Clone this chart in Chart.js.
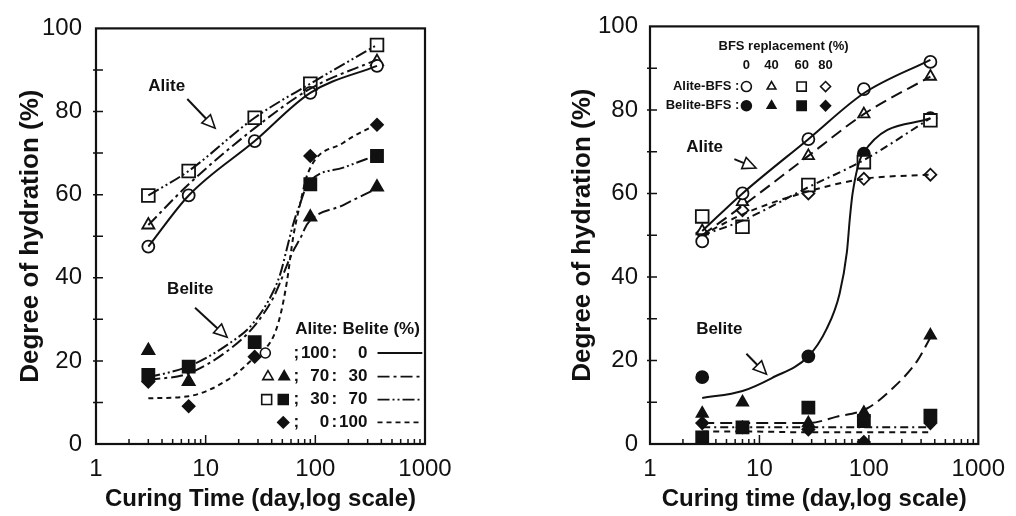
<!DOCTYPE html>
<html>
<head>
<meta charset="utf-8">
<script src="https://cdn.jsdelivr.net/npm/chart.js@4.4.1/dist/chart.umd.min.js"></script>
<style>
  html, body { margin: 0; padding: 0; background: #fff; }
  #wrap { position: relative; width: 1016px; height: 516px; }
  .panel { position: absolute; top: 0; height: 516px; }
  #left { left: 0; width: 500px; }
  #right { left: 500px; width: 516px; }
</style>
</head>
<body>
<div id="wrap">
  <div class="panel" id="left"><canvas id="leftChart" width="500" height="516"></canvas></div>
  <div class="panel" id="right"><canvas id="rightChart" width="516" height="516"></canvas></div>
</div>
<script>
// ---- shared axes ----
const curingDays = [3, 7, 28, 90, 365];
const xTickValues = [1, 10, 100, 1000];
const yTickValues = [0, 20, 40, 60, 80, 100];

// ---- left panel: measured points (Alite:Belite ratio) ----
const alite100 = [47.5, 59.8, 72.9, 84.5, 91];
const alite70 = [52.7, null, null, null, 92];
const alite30 = [59.8, 65.7, 78.5, 86.7, 96];
const belite70 = [22.5, 15, null, 54.6, 61.8];
const belite30 = [16.6, 18.6, 24.5, 62.5, 69.3];
const belite0 = [15, 9.1, 21, 69.3, 76.8];

// ---- left panel: fitted curves ----
const alite100Fit = [47.5, 59.8, 72.9, 84.5, 91];
const alite70Fit = [52.7, 62.5, 76, 85.5, 92.5];
const alite30Fit = [59.8, 65.7, 78.5, 86.7, 96];
const beliteFitDays = [3, 7, 16, 27, 41, 48, 55, 63, 73, 85, 180, 365];
const belite70Fit = [15.4, 17, 22.5, 28, 35, 39, 43, 46.5, 49.5, 53, 57.5, 61.5];
const belite30Fit = [16, 18.7, 24, 29, 36.5, 41, 47, 53, 58, 62.5, 66.5, 69.5];
const belite0Fit = [11, 11.5, 15.5, 20.5, 25.6, 31, 39, 50, 58, 65, 72.5, 77];

// ---- right panel: measured points (BFS replacement %) ----
const rAlite0 = [48.5, 60, 73, 85, 91.5];
const rAlite40 = [51, 58, 69, 79, 88];
const rAlite60 = [54.5, 52, 62, 67.5, 77.5];
const rAlite80 = [50.5, 56, 60, 63.5, 64.5];
const rBelite0 = [16, null, 21, 69.5, 78];
const rBelite40 = [7.3, 10, 5, 7.5, 26];
const rBelite60 = [1.6, 4, 8.7, 5.5, 6.8];
const rBelite80 = [5, 4, 3.5, 0.5, 5];

// ---- right panel: fitted curves ----
const rAlite0Fit = [51, 60, 73, 84, 92];
const rAlite40Fit = [50, 57, 69, 79, 88];
const rAlite60Fit = [50, 53.5, 61.5, 68, 78];
const rAlite80Fit = [50, 55, 60.5, 63.5, 64.5];
const rBelite0Days = [3, 7, 13, 28, 41, 54, 63, 67, 71, 88, 365];
const rBelite0Fit = [11, 12.7, 15.8, 21, 27.5, 36, 46, 54, 60, 69.5, 78];
const rBelite40Days = [3, 7, 28, 50, 96, 166, 275, 365];
const rBelite40Fit = [5, 5, 5, 6.5, 8.5, 13.4, 19.8, 25.5];
const rBelite60Fit = [4, 4, 4, 4, 4];
const rBelite80Fit = [3, 3, 2.8, 2.8, 2.8];

const INK = '#111';
const FAMILY = '"Liberation Sans", Arial, sans-serif';
const NARROW = '"Liberation Sans Narrow", "Liberation Sans", Arial, sans-serif';

function pts(days, vals) {
  return days.map((d, i) => (vals[i] == null ? null : { x: d, y: vals[i] })).filter(Boolean);
}

function fitLine(days, vals, dash) {
  return {
    data: pts(days, vals), showLine: true, pointRadius: 0,
    borderColor: INK, borderWidth: 2, borderDash: dash,
    cubicInterpolationMode: 'monotone', fill: false
  };
}

function markers(vals, style, filled, radius) {
  return {
    data: pts(curingDays, vals), showLine: false,
    pointStyle: style, pointRadius: radius, pointBorderWidth: 1.8,
    pointBorderColor: INK, pointBackgroundColor: filled ? INK : '#fff'
  };
}

// ---- drawing helpers for frame, ticks and annotations ----
function P(chart, d, v) {
  return [chart.scales.x.getPixelForValue(d), chart.scales.y.getPixelForValue(v)];
}

function drawFrame(chart) {
  const { ctx, chartArea: a } = chart;
  const x = chart.scales.x, y = chart.scales.y;
  ctx.save();
  ctx.strokeStyle = INK;
  ctx.lineWidth = 2.2;
  ctx.strokeRect(a.left, a.top, a.right - a.left, a.bottom - a.top);
  ctx.lineWidth = 1.5;
  ctx.beginPath();
  for (let v = 10; v < 100; v += 10) {
    const py = y.getPixelForValue(v);
    ctx.moveTo(a.left - 3, py);
    ctx.lineTo(a.left + 7, py);
  }
  for (let d = 1; d < 1000; d *= 10) {
    for (let m = 2; m <= 10; m++) {
      const v = d * m;
      if (v >= 1000) break;
      const px = x.getPixelForValue(v);
      ctx.moveTo(px, a.bottom);
      ctx.lineTo(px, a.bottom - (m === 10 ? 9 : 5));
    }
  }
  ctx.stroke();
  ctx.restore();
}

function drawText(chart, text, d, v, font, align) {
  const { ctx } = chart;
  const [px, py] = P(chart, d, v);
  ctx.save();
  ctx.fillStyle = INK;
  ctx.font = font;
  ctx.textAlign = align || 'left';
  ctx.textBaseline = 'middle';
  ctx.fillText(text, px, py);
  ctx.restore();
}

function drawArrow(chart, from, to) {
  const { ctx } = chart;
  const [x0, y0] = P(chart, from[0], from[1]);
  const [x1, y1] = P(chart, to[0], to[1]);
  const ang = Math.atan2(y1 - y0, x1 - x0);
  const len = 13, half = 6;
  const bx = x1 - len * Math.cos(ang), by = y1 - len * Math.sin(ang);
  ctx.save();
  ctx.strokeStyle = INK;
  ctx.lineWidth = 2;
  ctx.beginPath();
  ctx.moveTo(x0, y0);
  ctx.lineTo(bx, by);
  ctx.stroke();
  ctx.beginPath();
  ctx.moveTo(x1, y1);
  ctx.lineTo(bx + half * Math.sin(ang), by - half * Math.cos(ang));
  ctx.lineTo(bx - half * Math.sin(ang), by + half * Math.cos(ang));
  ctx.closePath();
  ctx.fillStyle = '#fff';
  ctx.fill();
  ctx.lineWidth = 1.6;
  ctx.stroke();
  ctx.restore();
}

function drawSymbol(chart, style, filled, d, v, radius) {
  const { ctx } = chart;
  const [px, py] = P(chart, d, v);
  ctx.save();
  ctx.strokeStyle = INK;
  ctx.fillStyle = filled ? INK : '#fff';
  ctx.lineWidth = 1.6;
  Chart.helpers.drawPoint(ctx, { pointStyle: style, radius: radius, borderWidth: 1.6 }, px, py);
  ctx.restore();
}

function drawSample(chart, d0, d1, v, dash) {
  const { ctx } = chart;
  const [x0, py] = P(chart, d0, v);
  const [x1] = P(chart, d1, v);
  ctx.save();
  ctx.strokeStyle = INK;
  ctx.lineWidth = 1.8;
  ctx.setLineDash(dash);
  ctx.beginPath();
  ctx.moveTo(x0, py);
  ctx.lineTo(x1, py);
  ctx.stroke();
  ctx.restore();
}

const DASH_A = [];
const DASH_B = [12, 4, 3, 4];
const DASH_C = [12, 3, 2, 3, 2, 3];
const DASH_D = [5, 4];

const legendRows = [
  { ratio: ['100', '0'], dash: DASH_A },
  { ratio: ['70', '30'], dash: DASH_B },
  { ratio: ['30', '70'], dash: DASH_C },
  { ratio: ['0', '100'], dash: DASH_D }
];
const legendRowLevels = [21.9, 16.2, 10.7, 5.2];

const leftDecor = {
  id: 'leftDecor',
  afterDatasetsDraw(chart) {
    drawFrame(chart);
    const big = 'bold 17px ' + NARROW;
    drawText(chart, 'Alite', 3, 86, big);
    drawArrow(chart, [6.8, 83], [12.2, 76]);
    drawText(chart, 'Belite', 4.45, 37.3, big);
    drawArrow(chart, [8.0, 32.8], [15.7, 25.7]);

    const lf = 'bold 17px ' + NARROW;
    drawText(chart, 'Alite: Belite (%)', 65.5, 27.5, lf);
    legendRows.forEach((row, i) => {
      const lv = legendRowLevels[i];
      drawText(chart, ';', 67, lv, lf, 'center');
      drawText(chart, row.ratio[0], 134, lv, lf, 'right');
      drawText(chart, ':', 149, lv, lf, 'center');
      drawText(chart, row.ratio[1], 298, lv, lf, 'right');
      drawSample(chart, 369, 945, lv, row.dash);
    });
    drawSymbol(chart, 'circle', false, 35, legendRowLevels[0], 5);
    drawSymbol(chart, 'triangle', false, 37, legendRowLevels[1], 6);
    drawSymbol(chart, 'triangle', true, 52, legendRowLevels[1], 6);
    drawSymbol(chart, 'rect', false, 36, legendRowLevels[2], 7);
    drawSymbol(chart, 'rect', true, 51, legendRowLevels[2], 7);
    drawSymbol(chart, 'rectRot', true, 51, legendRowLevels[3], 5.5);
  }
};

const bfsColumns = ['0', '40', '60', '80'];
const bfsColumnDays = [7.6, 12.9, 24.3, 40.2];
const bfsStyles = ['circle', 'triangle', 'rect', 'rectRot'];

const rightDecor = {
  id: 'rightDecor',
  afterDatasetsDraw(chart) {
    drawFrame(chart);
    const big = 'bold 17px ' + NARROW;
    drawText(chart, 'Alite', 2.14, 71, big);
    drawArrow(chart, [5.9, 68.2], [9.3, 66.1]);
    drawText(chart, 'Belite', 2.64, 27.5, big);
    drawArrow(chart, [7.6, 21.6], [11.6, 16.7]);

    const sf = 'bold 13px ' + NARROW;
    drawText(chart, 'BFS replacement (%)', 16.6, 95.3, sf, 'center');
    bfsColumns.forEach((c, i) => drawText(chart, c, bfsColumnDays[i], 90.6, sf, 'center'));
    drawText(chart, 'Alite-BFS :', 6.55, 85.6, sf, 'right');
    drawText(chart, 'Belite-BFS :', 6.55, 81, sf, 'right');
    bfsStyles.forEach((s, i) => {
      const r = s === 'rect' ? 6.5 : 5;
      drawSymbol(chart, s, false, bfsColumnDays[i], 85.6, r);
      drawSymbol(chart, s, true, bfsColumnDays[i], 81, r);
    });
  }
};

function panelOptions(pad, yWidth, yTitlePad, yTickPad) {
  const tickFont = { family: FAMILY, size: 24 };
  const xTitleFont = { family: FAMILY, size: 24, weight: 'bold' };
  const yTitleFont = { family: FAMILY, size: 26, weight: 'bold' };
  return {
    responsive: false,
    animation: false,
    layout: { padding: pad },
    plugins: { legend: { display: false }, tooltip: { enabled: false } },
    scales: {
      x: {
        type: 'logarithmic', min: 1, max: 1000,
        afterBuildTicks: s => { s.ticks = xTickValues.map(v => ({ value: v })); },
        afterFit: s => { s.height = 516 - 444; },
        grid: { display: false, drawTicks: false }, border: { display: false },
        ticks: { color: INK, font: tickFont, padding: 11, maxRotation: 0, autoSkip: false, callback: v => String(v) },
        title: { display: true, text: pad.xTitle, color: INK, font: xTitleFont, padding: { top: 0, bottom: 2 } }
      },
      y: {
        min: 0, max: 100,
        afterBuildTicks: s => { s.ticks = yTickValues.map(v => ({ value: v })); },
        afterFit: s => { s.width = yWidth; },
        grid: { display: false, drawTicks: false }, border: { display: false },
        ticks: { color: INK, font: tickFont, padding: yTickPad },
        title: { display: true, text: 'Degree of hydration (%)', color: INK, font: yTitleFont, padding: { top: yTitlePad, bottom: 0 } }
      }
    }
  };
}

new Chart(document.getElementById('leftChart'), {
  type: 'scatter',
  data: {
    datasets: [
      fitLine(curingDays, alite100Fit, DASH_A),
      fitLine(curingDays, alite70Fit, DASH_B),
      fitLine(curingDays, alite30Fit, DASH_C),
      fitLine(beliteFitDays, belite70Fit, DASH_B),
      fitLine(beliteFitDays, belite30Fit, DASH_C),
      fitLine(beliteFitDays, belite0Fit, DASH_D),
      markers(alite100, 'circle', false, 6),
      markers(alite70, 'triangle', false, 7),
      markers(alite30, 'rect', false, 9),
      markers(belite70, 'triangle', true, 7),
      markers(belite30, 'rect', true, 8.5),
      markers(belite0, 'rectRot', true, 6)
    ]
  },
  options: panelOptions({ left: 0, top: 24, right: 75, bottom: 0, xTitle: 'Curing Time (day,log scale)' }, 96, 15.4, 14),
  plugins: [leftDecor]
});

new Chart(document.getElementById('rightChart'), {
  type: 'scatter',
  data: {
    datasets: [
      fitLine(curingDays, rAlite0Fit, DASH_A),
      fitLine(curingDays, rAlite40Fit, [12, 6]),
      fitLine(curingDays, rAlite60Fit, [8, 4, 2, 4]),
      fitLine(curingDays, rAlite80Fit, [6, 5]),
      fitLine(rBelite0Days, rBelite0Fit, DASH_A),
      fitLine(rBelite40Days, rBelite40Fit, [12, 6]),
      fitLine(curingDays, rBelite60Fit, [8, 4, 2, 4]),
      fitLine(curingDays, rBelite80Fit, [6, 5]),
      markers(rAlite0, 'circle', false, 6),
      markers(rAlite40, 'triangle', false, 6.5),
      markers(rAlite60, 'rect', false, 9),
      markers(rAlite80, 'rectRot', false, 6),
      markers(rBelite0, 'circle', true, 6),
      markers(rBelite40, 'triangle', true, 6.5),
      markers(rBelite60, 'rect', true, 8.5),
      markers(rBelite80, 'rectRot', true, 6)
    ]
  },
  options: panelOptions({ left: 0, top: 19, right: 37, bottom: 0, xTitle: 'Curing time (day,log scale)' }, 150, 67.4, 12),
  plugins: [rightDecor]
});
</script>
</body>
</html>
